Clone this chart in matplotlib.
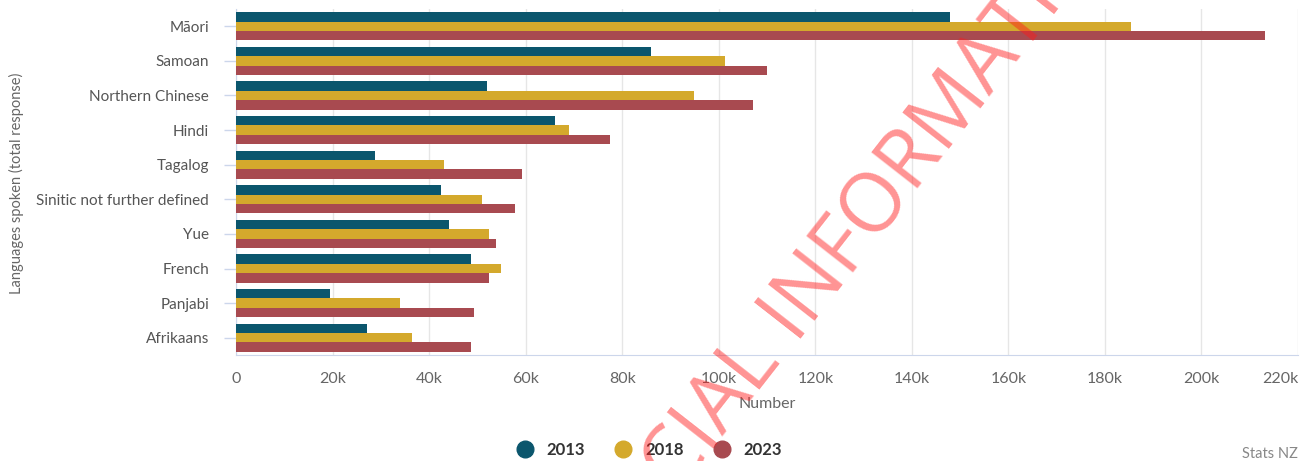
import numpy as np
import matplotlib
matplotlib.use("Agg")
import matplotlib.pyplot as plt
from matplotlib.lines import Line2D

# Datos (miles de personas)
languages = ["Māori", "Samoan", "Northern Chinese", "Hindi", "Tagalog",
             "Sinitic not further defined", "Yue", "French", "Panjabi", "Afrikaans"]
years = ["2013", "2018", "2023"]
v2013 = [148.0, 86.0, 51.9, 66.0, 28.8, 42.5, 44.2, 48.6, 19.4, 27.1]
v2018 = [185.5, 101.3, 94.9, 68.9, 43.0, 50.9, 52.4, 54.8, 33.9, 36.5]
v2023 = [213.1, 109.9, 107.0, 77.4, 59.2, 57.8, 53.9, 52.4, 49.2, 48.6]
x_ticks = [0, 20, 40, 60, 80, 100, 120, 140, 160, 180, 200, 220]

colors = ["#0b566d", "#d4a92c", "#a84a50"]
series = [v2013, v2018, v2023]

plt.rcParams['font.family'] = ['Lato', 'DejaVu Sans']

W, H = 1305, 461
fig = plt.figure(figsize=(W / 100, H / 100), dpi=100)
ax = fig.add_axes([236 / W, 1 - 355 / H, (1298 - 236) / W, (355 - 9) / H])

y = np.arange(len(languages))
bh = 0.27
for i, (vals, c) in enumerate(zip(series, colors)):
    ax.barh(y + (i - 1) * bh, [v * 1000 for v in vals], height=bh, color=c, zorder=3)

ax.set_xlim(0, 220000)
ax.set_ylim(len(languages) - 0.5, -0.5)
ax.set_xticks([t * 1000 for t in x_ticks])
ax.set_xticklabels(["0" if t == 0 else f"{t}k" for t in x_ticks])
ax.set_yticks(y)
ax.set_yticklabels(languages)

ax.grid(axis="x", color="#e6e6e6", linewidth=1, zorder=0)
for s in ["top", "right"]:
    ax.spines[s].set_visible(False)
ax.spines["bottom"].set_color("#ccd6eb")
ax.spines["left"].set_color("#ccd6eb")
ax.tick_params(axis="x", length=0, pad=12, labelsize=11.5, labelcolor="#666666")
ax.tick_params(axis="y", length=9, width=1, color="#ccd6eb", pad=10.5,
               labelsize=11, labelcolor="#555555")
labs = ax.get_xticklabels()
labs[-1].set_horizontalalignment("right")
labs[-1].set_x(1)

fig.text(767 / W, 1 - 404 / H, "Number", ha="center", va="center",
         fontsize=11.5, color="#666666")
fig.text(16 / W, 1 - 183 / H, "Languages spoken (total response)", ha="center",
         va="center", rotation=90, fontsize=10.5, color="#666666")

handles = [Line2D([], [], marker="o", linestyle="", markersize=12,
                  markerfacecolor=c, markeredgecolor=c) for c in colors]
leg = fig.legend(handles, years, loc="center", bbox_to_anchor=(645 / W, 1 - 450 / H),
                 ncol=3, frameon=False, handletextpad=0.3, columnspacing=1.3,
                 prop={"size": 12, "weight": "bold"})
for t in leg.get_texts():
    t.set_color("#333333")

fig.text(1298 / W, 1 - 454 / H, "Stats NZ", ha="right", va="center",
         fontsize=10.5, color="#888888")

# Marca de agua
ang = 52
ux, uy = np.cos(np.radians(ang)), np.sin(np.radians(ang))
px, py = 793, 338
wm = dict(rotation=ang, rotation_mode="anchor", va="baseline", fontsize=59,
          color=(1, 0.1, 0.1, 0.47), family="Open Sans", zorder=10)
fig.text(px / W, 1 - py / H, "INFORMATION", ha="left", **wm)
gap = 22
fig.text((px - gap * ux) / W, 1 - (py + gap * uy) / H, "UNOFFICIAL", ha="right", **wm)

fig.savefig("out.png", dpi=100)
